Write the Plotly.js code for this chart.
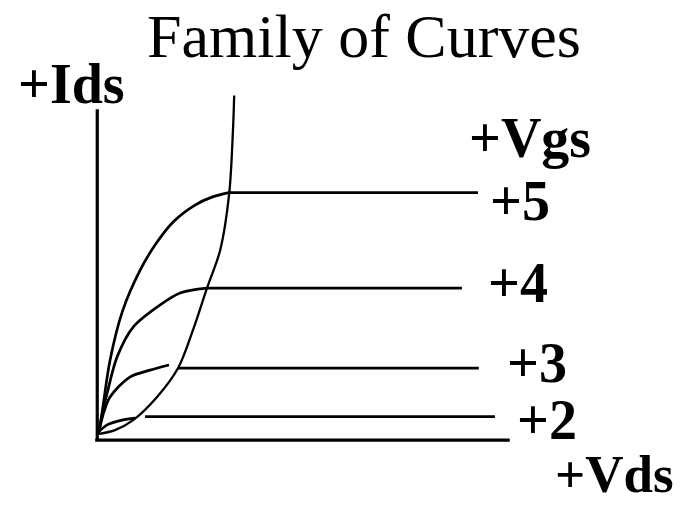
<!DOCTYPE html>
<html><head><meta charset="utf-8">
<script src="https://cdn.plot.ly/plotly-3.0.1.min.js"></script>
<style>html,body{margin:0;padding:0;background:#fff}#chart{width:683px;height:505px}</style>
</head><body><div id="chart"></div><script>
// ---- data (Vds, Ids in arbitrary units) ----
const vgsLabels = ['+5', '+4', '+3', '+2'];

// Vgs = +5 : ohmic curve, then flat saturation line
const vds5 = [0.04, 0.09, 0.16, 0.31, 0.62, 1.04, 1.40, 1.84, 2.37, 2.78, 3.19];
const ids5 = [0.24, 0.58, 1.16, 2.32, 3.77, 4.93, 5.66, 6.33, 6.82, 7.05, 7.18];
const flat5Vds = [3.19, 9.23], flat5Ids = [7.18, 7.18];

// Vgs = +4
const vds4 = [0.04, 0.14, 0.24, 0.48, 0.87, 1.52, 2.01, 2.66];
const ids4 = [0.24, 0.87, 1.36, 2.41, 3.28, 3.92, 4.27, 4.41];
const flat4Vds = [2.66, 8.84], flat4Ids = [4.41, 4.41];

// Vgs = +3
const vds3 = [0.04, 0.16, 0.31, 0.79, 1.28, 1.74];
const ids3 = [0.24, 0.81, 1.25, 1.83, 2.03, 2.18];
const flat3Vds = [1.96, 9.25], flat3Ids = [2.09, 2.09];

// Vgs = +2
const vds2 = [0.00, 0.24, 0.60, 0.92];
const ids2 = [0.20, 0.44, 0.58, 0.64];
const flat2Vds = [1.16, 9.64], flat2Ids = [0.68, 0.68];

// saturation boundary (pinch-off parabola)
const satVds = [0.04, 0.43, 0.87, 1.45, 1.96, 2.32, 2.66, 2.98, 3.20, 3.29, 3.32];
const satIds = [0.18, 0.29, 0.58, 1.25, 2.09, 3.19, 4.41, 5.51, 7.17, 8.99, 10.0];

// axes
const xAxisVds = [-0.05, 10.0], xAxisIds = [0, 0];
const yAxisVds = [0, 0],        yAxisIds = [0, 9.6];

// ---- layout geometry ----
const W = 683, H = 505, L = 89, R = 165, T = 92, B = 58;
const X0 = -0.2, X1 = 10.2, Y0 = -0.2, Y1 = 10.1;
function px(p) { return (p - L) / (W - L - R); }      // pixel -> paper x
function py(p) { return (H - B - p) / (H - T - B); }  // pixel -> paper y

const black = '#000';
function curve(x, y, w) {
  return {x: x, y: y, type: 'scatter', mode: 'lines',
          line: {color: black, width: w, shape: 'spline', smoothing: 0.9},
          hoverinfo: 'skip'};
}
function straight(x, y, w) {
  return {x: x, y: y, type: 'scatter', mode: 'lines',
          line: {color: black, width: w}, hoverinfo: 'skip'};
}

const traces = [
  straight(xAxisVds, xAxisIds, 3.2),
  straight(yAxisVds, yAxisIds, 3.2),
  curve(vds5, ids5, 2.7), straight(flat5Vds, flat5Ids, 2.7),
  curve(vds4, ids4, 2.7), straight(flat4Vds, flat4Ids, 2.7),
  curve(vds3, ids3, 2.7), straight(flat3Vds, flat3Ids, 2.7),
  curve(vds2, ids2, 2.7), straight(flat2Vds, flat2Ids, 2.7),
  curve(satVds, satIds, 2.3)
];

const fam = '"Liberation Serif", "Times New Roman", serif';
function label(text, cx, cy, size) {
  return {text: '<b>' + text + '</b>', x: px(cx), y: py(cy), xref: 'paper', yref: 'paper',
          showarrow: false, xanchor: 'center', yanchor: 'middle',
          font: {family: fam, size: size || 56, color: black}};
}

const annotations = [
  label('+Ids', 71, 84),
  label('+Vgs', 530, 138),
  label(vgsLabels[0], 520, 201),
  label(vgsLabels[1], 518, 283),
  label(vgsLabels[2], 537, 363),
  label(vgsLabels[3], 547, 420),
  label('+Vds', 614, 474, 53)
];

const layout = {
  width: W, height: H,
  margin: {l: L, r: R, t: T, b: B, pad: 0},
  paper_bgcolor: '#fff', plot_bgcolor: '#fff',
  showlegend: false,
  title: {text: 'Family of Curves', x: 364 / W, xref: 'container', xanchor: 'center',
          y: 1 - 35 / H, yref: 'container', yanchor: 'middle',
          font: {family: fam, size: 62, color: black}},
  xaxis: {range: [X0, X1], visible: false, fixedrange: true},
  yaxis: {range: [Y0, Y1], visible: false, fixedrange: true},
  annotations: annotations
};

Plotly.newPlot('chart', traces, layout, {staticPlot: true, displayModeBar: false});
</script></body></html>
